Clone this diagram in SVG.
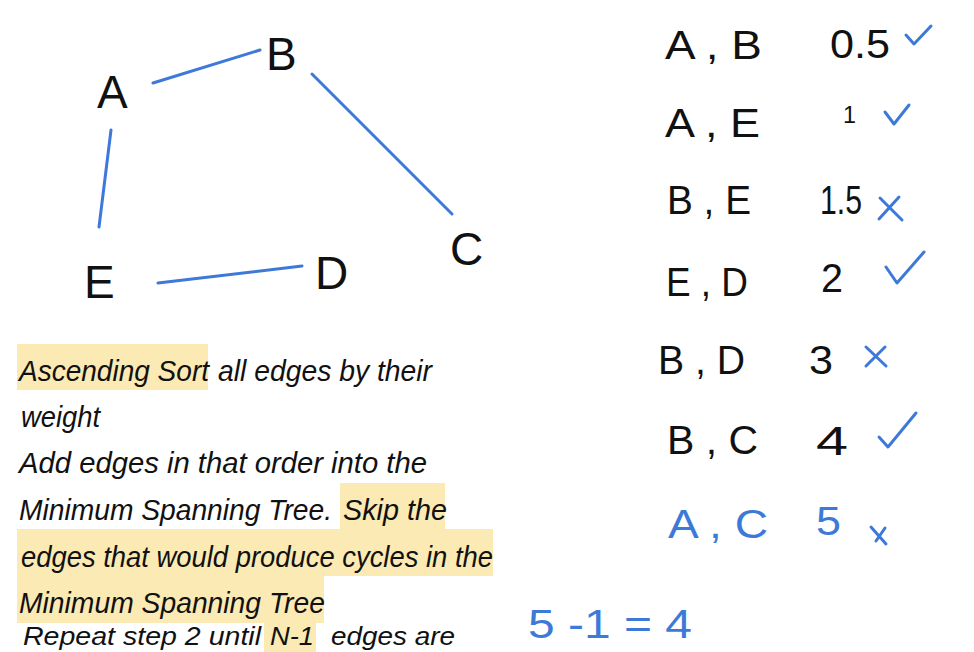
<svg xmlns="http://www.w3.org/2000/svg" width="974" height="652" viewBox="0 0 974 652">
<style>
.node{font-family:"Liberation Sans",Arial,sans-serif;font-size:46px;fill:#111}
.edge{stroke:#3d79d8;stroke-width:3;stroke-linecap:round;fill:none}
.para{font-family:"Liberation Sans",Arial,sans-serif;font-style:italic;font-size:30px;fill:#111}
.hl{fill:#fbeab3}
.row{font-family:"Liberation Sans",Arial,sans-serif;font-size:40px;fill:#111}
.rowb{font-family:"Liberation Sans",Arial,sans-serif;font-size:40px;fill:#3d79d8}
.mark{stroke:#3d79d8;stroke-width:3;stroke-linecap:round;stroke-linejoin:round;fill:none}
</style>
<rect width="974" height="652" fill="#ffffff"/>
<g id="connectors">
<line class="edge" x1="153" y1="83" x2="260" y2="50"/>
<line class="edge" x1="312" y1="74" x2="452" y2="214"/>
<line class="edge" x1="111" y1="130" x2="99" y2="227"/>
<line class="edge" x1="158" y1="283" x2="302" y2="266"/>
</g>
<g id="node-A"><text class="node" x="97" y="108">A</text></g>
<g id="node-B"><text class="node" x="266" y="70">B</text></g>
<g id="node-C"><text class="node" x="450" y="265">C</text></g>
<g id="node-D"><text class="node" x="315" y="289">D</text></g>
<g id="node-E"><text class="node" x="84" y="298">E</text></g>
<g id="steps">
<rect class="hl" x="17" y="344" width="191" height="46"/>
<rect class="hl" x="340" y="483" width="105" height="46"/>
<rect class="hl" x="17" y="529" width="476" height="47"/>
<rect class="hl" x="17" y="576" width="307" height="47"/>
<rect class="hl" x="264" y="623" width="52" height="29"/>
<text class="para" x="19" y="381" textLength="190" lengthAdjust="spacingAndGlyphs">Ascending Sort</text>
<text class="para" x="218" y="381" textLength="214" lengthAdjust="spacingAndGlyphs">all edges by their</text>
<text class="para" x="21" y="427" textLength="79" lengthAdjust="spacingAndGlyphs">weight</text>
<text class="para" x="19" y="473" textLength="408" lengthAdjust="spacingAndGlyphs">Add edges in that order into the</text>
<text class="para" x="19" y="520" textLength="313" lengthAdjust="spacingAndGlyphs">Minimum Spanning Tree.</text>
<text class="para" x="343" y="520" textLength="104" lengthAdjust="spacingAndGlyphs">Skip the</text>
<text class="para" x="21" y="567" textLength="472" lengthAdjust="spacingAndGlyphs">edges that would produce cycles in the</text>
<text class="para" x="19" y="613" textLength="306" lengthAdjust="spacingAndGlyphs">Minimum Spanning Tree</text>
<text class="para" x="23" y="645" style="font-size:26px" textLength="238" lengthAdjust="spacingAndGlyphs">Repeat step 2 until</text>
<text class="para" x="270" y="645" style="font-size:26px" textLength="44" lengthAdjust="spacingAndGlyphs">N-1</text>
<text class="para" x="331" y="645" style="font-size:26px" textLength="124" lengthAdjust="spacingAndGlyphs">edges are</text>
</g>
<g id="row-AB">
<text class="row" x="665" y="59" textLength="97" lengthAdjust="spacingAndGlyphs">A , B</text>
<text class="row" x="830" y="58" textLength="60" lengthAdjust="spacingAndGlyphs">0.5</text>
<path class="mark" d="M906 35 L914 44 L931 26"/>
</g>
<g id="row-AE">
<text class="row" x="665" y="137" textLength="95" lengthAdjust="spacingAndGlyphs">A , E</text>
<text class="row" x="843" y="123" style="font-size:24px" textLength="13" lengthAdjust="spacingAndGlyphs">1</text>
<path class="mark" d="M885 112 L894 124 L909 105"/>
</g>
<g id="row-BE">
<text class="row" x="667" y="214" textLength="84" lengthAdjust="spacingAndGlyphs">B , E</text>
<text class="row" x="820" y="214" textLength="42" lengthAdjust="spacingAndGlyphs">1.5</text>
<path class="mark" d="M880 198 L902 220 M899 197 L879 219"/>
</g>
<g id="row-ED">
<text class="row" x="666" y="296" textLength="82" lengthAdjust="spacingAndGlyphs">E , D</text>
<text class="row" x="821" y="292" textLength="22" lengthAdjust="spacingAndGlyphs">2</text>
<path class="mark" d="M886 267 L897 283 L924 252"/>
</g>
<g id="row-BD">
<text class="row" x="658" y="374" textLength="87" lengthAdjust="spacingAndGlyphs">B , D</text>
<text class="row" x="809" y="374" textLength="24" lengthAdjust="spacingAndGlyphs">3</text>
<path class="mark" d="M866 347 L886 366 M885 347 L866 366"/>
</g>
<g id="row-BC">
<text class="row" x="667" y="454" textLength="91" lengthAdjust="spacingAndGlyphs">B , C</text>
<text class="row" x="816" y="455" textLength="32" lengthAdjust="spacingAndGlyphs">4</text>
<path class="mark" d="M879 437 L888 447 L916 413"/>
</g>
<g id="row-AC">
<text class="rowb" x="668" y="538" textLength="100" lengthAdjust="spacingAndGlyphs">A , C</text>
<text class="rowb" x="816" y="535" textLength="25" lengthAdjust="spacingAndGlyphs">5</text>
<path class="mark" d="M871 527 L886 544 M885 528 L876 541"/>
</g>
<g id="count">
<text class="rowb" x="528" y="638" textLength="164" lengthAdjust="spacingAndGlyphs">5 -1 = 4</text>
</g>
</svg>
